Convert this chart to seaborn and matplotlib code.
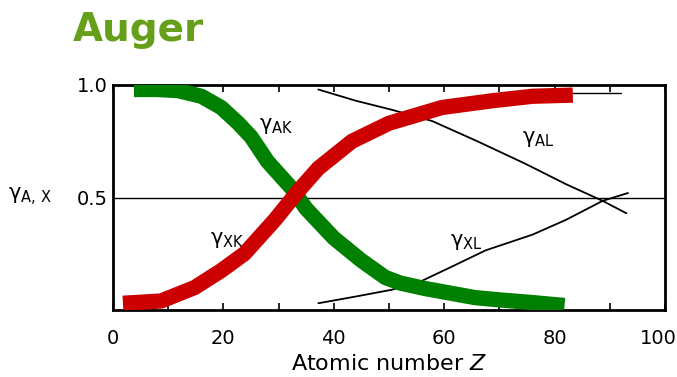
import matplotlib
matplotlib.use("Agg")
import matplotlib.pyplot as plt
from matplotlib.ticker import MultipleLocator
import matplotlib.transforms as mtransforms
import seaborn as sns
import pandas as pd

# Data
z_ak = [3.8, 8, 11.8, 16, 19.6, 22.7, 25, 28, 32.4, 35, 40, 45, 49.3, 52, 56.6, 60, 65.6, 70, 76, 81.8]
g_ak = [0.98, 0.98, 0.975, 0.95, 0.90, 0.83, 0.77, 0.66, 0.54, 0.45, 0.32, 0.22, 0.145, 0.12,
        0.095, 0.08, 0.055, 0.045, 0.033, 0.02]

z_xk = [1.8, 8.7, 14.8, 19.6, 23.8, 29.3, 33.6, 37.2, 43.3, 50, 59.6, 68.7, 76, 83.3]
g_xk = [0.03, 0.04, 0.10, 0.175, 0.25, 0.40, 0.53, 0.63, 0.75, 0.83, 0.90, 0.93, 0.95, 0.955]

z_al = [37.2, 44, 50.5, 57.8, 66, 74.7, 82, 88.7, 93]
g_al = [0.98, 0.93, 0.89, 0.84, 0.75, 0.65, 0.56, 0.485, 0.43]

z_xl = [37.2, 44, 50.5, 56, 62, 67.5, 76, 82, 88.7, 93.3]
g_xl = [0.03, 0.06, 0.09, 0.13, 0.20, 0.265, 0.335, 0.40, 0.485, 0.52]

z_top = [83, 92]
g_top = [0.965, 0.965]

x_ticks = [0, 20, 40, 60, 80, 100]
y_ticks = [0.5, 1.0]
y_tick_labels = ["0.5", "1.0"]

sns.set_theme(style="white")
plt.rcParams['font.family'] = ['DejaVu Sans']
plt.rcParams['mathtext.fontset'] = 'dejavusans'

fig = plt.figure(figsize=(6.77, 3.77), dpi=100)
ax = fig.add_axes([113/677, 1-310/377, (665-113)/677, (310-85)/377])

ax.axhline(0.5, color="black", lw=1.0, zorder=1)

def df(z, g):
    return pd.DataFrame({"Z": z, "g": g})

sns.lineplot(data=df(z_al, g_al), x="Z", y="g", ax=ax, color="black", lw=1.3, sort=False, zorder=2)
sns.lineplot(data=df(z_xl, g_xl), x="Z", y="g", ax=ax, color="black", lw=1.3, sort=False, zorder=2)
sns.lineplot(data=df(z_top, g_top), x="Z", y="g", ax=ax, color="black", lw=1.0, sort=False, zorder=2)
sns.lineplot(data=df(z_ak, g_ak), x="Z", y="g", ax=ax, color="#008000", lw=11,
             sort=False, solid_capstyle="butt", solid_joinstyle="round", zorder=3)
sns.lineplot(data=df(z_xk, g_xk), x="Z", y="g", ax=ax, color="#cc0000", lw=11,
             sort=False, solid_capstyle="butt", solid_joinstyle="round", zorder=4)

ax.set_xlim(0, 100)
ax.set_ylim(0, 1)
ax.set_xticks(x_ticks)
ax.xaxis.set_minor_locator(MultipleLocator(10))
ax.set_yticks(y_ticks)
ax.set_yticklabels(y_tick_labels)
ax.tick_params(axis="x", which="both", direction="in", top=True, bottom=True,
               length=5, width=1.2, labelsize=14, pad=14, colors="black")
ax.tick_params(axis="y", which="both", direction="in", left=True, length=0,
               labelsize=14, pad=4, colors="black")
ax.set_xlabel("Atomic number $\\mathit{Z}$", fontsize=16, color="black", labelpad=4)
ax.set_ylabel("")
for s in ax.spines.values():
    s.set_visible(True)
    s.set_color("black")
    s.set_linewidth(2)

# shift the last tick label ("100") a little left, as in the reference
last = ax.get_xticklabels()[-1]
last.set_transform(last.get_transform() + mtransforms.ScaledTranslation(-7/100, 0, fig.dpi_scale_trans))

fs = 15
ax.text(29.5, 0.82, "γ$_{\\mathrm{AK}}$", fontsize=fs, ha="center", va="center", color="black")
ax.text(77, 0.76, "γ$_{\\mathrm{AL}}$", fontsize=fs, ha="center", va="center", color="black")
ax.text(20.7, 0.31, "γ$_{\\mathrm{XK}}$", fontsize=fs, ha="center", va="center", color="black")
ax.text(64, 0.30, "γ$_{\\mathrm{XL}}$", fontsize=fs, ha="center", va="center", color="black")

fig.text(8/677, 1-197/377, "γ$_{\\mathrm{A,\\,X}}$", fontsize=15, ha="left", va="center", color="black")
fig.text(73/677, 1-30/377, "Auger", fontsize=28, fontweight="bold", color="#66a01a",
         ha="left", va="center")

fig.savefig("out.png", dpi=100)
